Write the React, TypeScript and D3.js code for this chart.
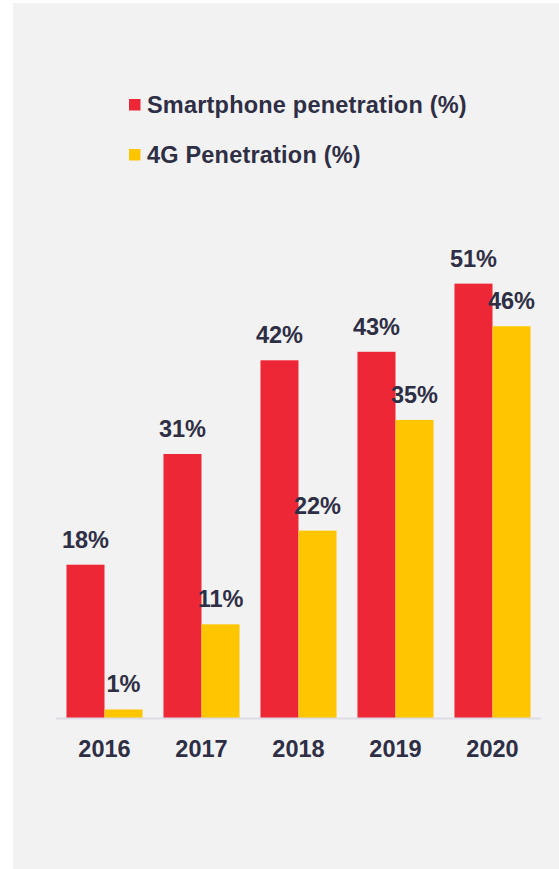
import React from "react";
import * as d3 from "d3";

const years = ["2016", "2017", "2018", "2019", "2020"];
const smartphone = [18, 31, 42, 43, 51];
const fourG = [1, 11, 22, 35, 46];
const seriesNames = ["Smartphone penetration (%)", "4G Penetration (%)"];
const seriesColors = ["#ee2737", "#ffc600"];

const W = 559;
const H = 869;
const TEXT = "#2e2e45";
const FONT = "'Liberation Sans', Arial, sans-serif";

export default function App() {
  const baseline = 718;
  const x = d3.scaleBand<string>().domain(years).range([56, 541]).paddingInner(0.216).paddingOuter(0.108);
  const sub = d3.scaleBand<number>().domain([0, 1]).range([0, x.bandwidth()]);
  const y = d3.scaleLinear().domain([0, 60]).range([baseline, baseline - 511]);
  const series = [smartphone, fourG];

  return (
    <svg width={W} height={H} style={{ position: "absolute", left: 0, top: 0, background: "#fff" }} fontFamily={FONT}>
      <rect x={13} y={3} width={W - 13} height={H - 3} fill="#f2f2f2" />
      {seriesNames.map((name, i) => (
        <g key={name} transform={`translate(129,${99 + i * 50})`}>
          <rect width={11.5} height={11.5} fill={seriesColors[i]} />
          <text x={18} y={14} fontSize={23.5} fontWeight="bold" fill={TEXT} letterSpacing={0.2}>
            {name}
          </text>
        </g>
      ))}
      {series.map((vals, si) =>
        vals.map((v, i) => {
          const bx = (x(years[i]) as number) + (sub(si) as number);
          const bw = sub.bandwidth();
          return (
            <g key={`${si}-${i}`}>
              <rect x={bx} y={y(v)} width={bw} height={baseline - y(v)} fill={seriesColors[si]} />
              <text x={bx + bw / 2} y={y(v) - 17} textAnchor="middle" fontSize={23.5} fontWeight="bold" fill={TEXT}>
                {`${v}%`}
              </text>
            </g>
          );
        })
      )}
      <line x1={56} x2={541} y1={baseline + 0.5} y2={baseline + 0.5} stroke="#dcdbe6" strokeWidth={2} />
      {years.map((yr) => (
        <text key={yr} x={(x(yr) as number) + x.bandwidth() / 2} y={757} textAnchor="middle" fontSize={23.5} fontWeight="bold" fill={TEXT}>
          {yr}
        </text>
      ))}
    </svg>
  );
}
